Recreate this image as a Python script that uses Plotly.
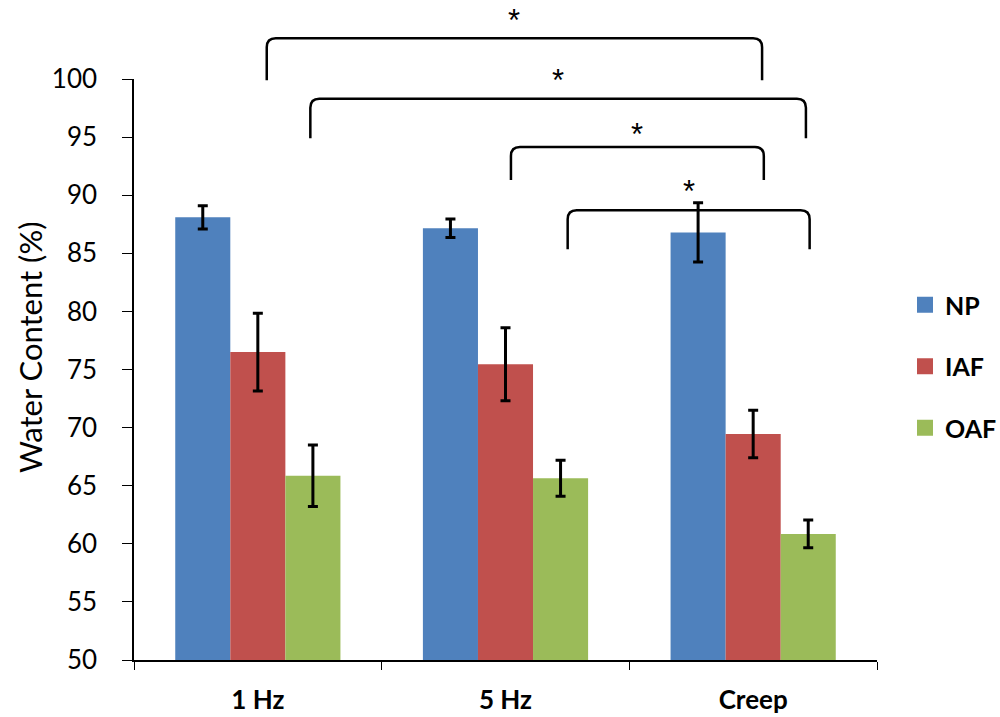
import plotly.graph_objects as go

categories = ["1 Hz", "5 Hz", "Creep"]
series_names = ["NP", "IAF", "OAF"]
np_values = [88.1, 87.15, 86.8]
np_errors = [1.0, 0.8, 2.55]
iaf_values = [76.5, 75.45, 69.45]
iaf_errors = [3.35, 3.15, 2.05]
oaf_values = [65.85, 65.65, 60.85]
oaf_errors = [2.65, 1.55, 1.2]
colors = ["#4F81BD", "#C0504D", "#9BBB59"]
y_ticks = [50, 55, 60, 65, 70, 75, 80, 85, 90, 95, 100]

# significance brackets: (left category pos, right category pos, y of legs bottom, y of top bar, y of star)
brackets = [
    (0.036, 2.036, 99.9, 103.5, 105.3),
    (0.212, 2.213, 94.9, 98.3, 100.1),
    (1.022, 2.043, 91.3, 94.15, 95.45),
    (1.251, 2.228, 85.35, 88.7, 90.6),
]

Y_MIN, Y_MAX = 50, 100
X_MIN, X_MAX = -0.5, 2.5
W, H = 1000, 717
ML, MR, MT, MB = 134, 123, 79, 57
PW = W - ML - MR
PH = H - MT - MB


def xp(v):
    return (v - X_MIN) / (X_MAX - X_MIN)


def yp(v):
    return (v - Y_MIN) / (Y_MAX - Y_MIN)


fig = go.Figure()
values = [np_values, iaf_values, oaf_values]
errors = [np_errors, iaf_errors, oaf_errors]
for name, vals, errs, col in zip(series_names, values, errors, colors):
    fig.add_trace(go.Bar(
        x=categories, y=vals, name=name, showlegend=False,
        marker=dict(color=col, line=dict(width=0)),
        error_y=dict(type="data", array=errs, visible=True,
                     color="black", thickness=3, width=5),
    ))
for i, (name, col) in enumerate(zip(series_names, colors)):
    fig.add_trace(go.Scatter(
        x=[None], y=[None], mode="markers", name=name,
        legendgroup=name,
        marker=dict(symbol="square", size=16, color=col),
    ))

shapes = []
annotations = []
rx = 9 / PW
ry = 9 / PH
for x0, x1, yb, yt, ys in brackets:
    X0, X1 = xp(x0), xp(x1)
    YB, YT = yp(yb), yp(yt)
    path = (f"M {X0},{YB} L {X0},{YT - ry} Q {X0},{YT} {X0 + rx},{YT} "
            f"L {X1 - rx},{YT} Q {X1},{YT} {X1},{YT - ry} L {X1},{YB}")
    shapes.append(dict(type="path", xref="paper", yref="paper", path=path,
                       line=dict(color="black", width=2.5)))
    annotations.append(dict(xref="paper", yref="paper", x=(X0 + X1) / 2, y=yp(ys),
                            text="*", showarrow=False, xanchor="center", yanchor="middle",
                            yshift=-3,
                            font=dict(family="Liberation Sans", size=31, color="black")))

annotations.append(dict(xref="paper", yref="paper", x=(30 - ML) / PW, y=(H - MB - 347) / PH,
                        text="Water Content (%)", textangle=-90, showarrow=False,
                        xanchor="center", yanchor="middle",
                        font=dict(family="Lato", size=31, color="black")))

fig.update_layout(
    width=W, height=H,
    margin=dict(l=ML, r=MR, t=MT, b=MB, pad=0, autoexpand=False),
    paper_bgcolor="white", plot_bgcolor="white",
    barmode="group", bargap=0.333, bargroupgap=0,
    shapes=shapes, annotations=annotations,
    legend=dict(x=(905 - ML) / PW, xanchor="left", y=(H - MB - 282) / PH, yanchor="top",
                font=dict(family="Lato", size=25, color="black", weight="bold"),
                tracegroupgap=26, bgcolor="rgba(0,0,0,0)"),
    xaxis=dict(range=[X_MIN, X_MAX], showline=True, linecolor="black", linewidth=1.5,
               ticks="outside", tickson="boundaries", ticklen=8, tickcolor="black",
               showgrid=False, zeroline=False, ticklabelstandoff=16, automargin=False,
               tickfont=dict(family="Lato", size=26, color="black", weight="bold")),
    yaxis=dict(range=[Y_MIN, Y_MAX], tickvals=y_ticks, showline=True, linecolor="black",
               linewidth=1.5, ticks="outside", ticklen=10, tickcolor="black",
               showgrid=False, zeroline=False, ticklabelstandoff=20, automargin=False,
               tickfont=dict(family="Lato", size=26, color="black")),
    font=dict(family="Lato", color="black"),
)

fig.write_html("out.html")
